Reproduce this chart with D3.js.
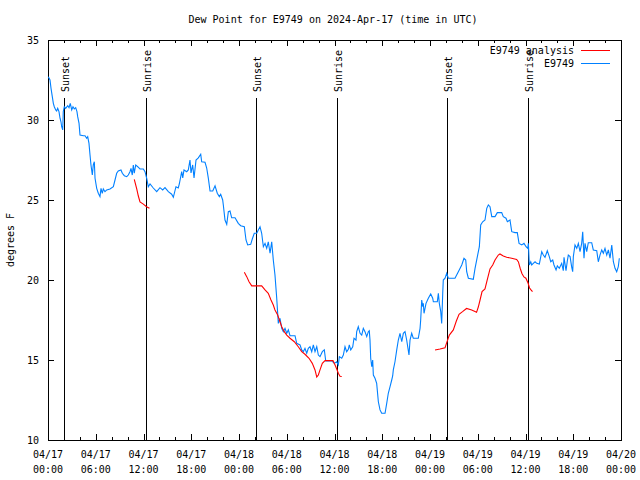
<!DOCTYPE html>
<html><head><meta charset="utf-8">
<script src="https://cdn.jsdelivr.net/npm/d3@7"></script>
<style>body{margin:0;background:#fff}svg text{font-family:"DejaVu Sans Mono","Liberation Mono",monospace;font-size:10px;fill:#000}</style>
</head><body><svg id="c" width="640" height="480"></svg>
<script>
const titleText = "Dew Point for E9749 on 2024-Apr-17 (time in UTC)";
const yLabelText = "degrees F";
const startTime = Date.UTC(2024, 3, 17, 0, 0);
const yTicks = [10, 15, 20, 25, 30, 35];
// hours since 2024-04-17 00:00 UTC
const obsHours = [0.04,0.25,0.38,0.54,0.67,0.79,0.97,1.09,1.22,1.38,1.51,1.63,1.72,1.85,1.92,2.05,2.22,2.48,2.64,2.80,2.98,3.14,3.30,3.48,3.64,3.73,3.90,4.02,4.44,4.65,4.86,4.99,5.15,5.28,5.40,5.57,5.69,5.82,5.91,6.12,6.32,6.53,6.66,6.82,6.95,7.16,7.38,7.79,8.21,8.42,8.63,8.83,9.17,9.34,9.59,9.89,10.09,10.30,10.43,10.59,10.72,10.84,11.02,11.27,11.56,11.98,12.19,12.40,12.60,12.82,13.23,13.66,14.07,14.41,14.70,15.12,15.54,15.75,16.08,16.37,16.50,16.80,16.93,17.09,17.43,17.63,17.84,17.97,18.18,18.35,18.60,18.89,19.19,19.31,19.73,19.94,20.14,20.36,20.70,20.99,21.27,21.53,21.70,21.95,22.03,22.24,22.46,22.66,22.87,23.08,23.50,23.91,24.21,24.67,24.88,25.09,25.47,25.67,25.92,26.23,26.43,26.64,26.85,27.06,27.27,27.48,27.68,27.90,28.11,28.31,28.52,28.74,28.94,29.15,29.37,29.57,29.78,30.00,30.20,30.41,31.04,31.25,31.67,31.88,32.08,32.29,32.51,32.71,32.92,33.14,33.34,33.55,33.77,33.97,34.18,34.47,34.72,34.90,35.65,35.98,36.28,36.48,36.61,36.91,37.11,37.32,37.53,37.74,37.86,38.04,38.29,38.45,38.70,38.79,38.99,39.21,39.42,39.62,39.83,40.05,40.25,40.37,40.46,40.55,40.68,40.80,40.88,41.09,41.30,41.51,41.72,41.93,42.35,42.56,42.76,42.98,43.19,43.31,43.39,43.60,43.82,44.02,44.23,44.45,44.65,44.86,45.07,45.36,45.49,45.70,45.90,46.53,46.75,46.83,46.96,47.09,47.16,47.25,47.50,47.79,48.09,48.34,48.42,48.92,49.05,49.17,49.35,49.47,49.60,49.67,49.89,50.10,50.30,51.14,51.56,51.99,52.27,52.49,52.61,52.82,53.44,53.66,53.95,54.20,54.37,54.62,54.91,55.13,55.33,55.54,55.76,56.17,56.46,57.01,57.21,57.55,57.72,58.05,58.27,58.68,58.97,59.19,59.53,59.81,60.07,60.28,60.36,60.48,60.66,60.78,60.98,61.20,61.41,61.74,62.04,62.24,62.45,62.74,62.99,63.17,63.42,63.58,63.84,64.00,64.25,64.55,64.75,64.84,65.09,65.26,65.38,65.60,65.81,65.93,66.01,66.22,66.44,66.64,66.85,67.06,67.19,67.35,67.48,67.69,67.89,68.32,68.52,68.95,69.15,69.36,69.58,69.78,69.99,70.21,70.41,70.62,70.84,71.04,71.25,71.46,71.66,71.79];
const obsDew = [32.71,32.5,31.98,31.46,31.04,30.83,30.63,30.56,30.73,30.52,30.11,29.89,29.58,29.38,30.52,30.83,30.73,30.89,30.77,31.04,30.63,30.83,30.69,30.77,30.52,30.21,29.79,29.06,29.02,29.02,28.86,28.96,28.54,27.81,27.19,26.56,27.19,27.39,26.36,25.73,25.42,25.21,25.73,25.42,25.69,25.52,25.63,25.69,25.83,26.25,26.67,26.81,26.88,26.67,26.52,26.46,26.56,26.77,26.98,26.56,27.19,26.67,27.19,27.08,26.94,26.94,26.77,26.36,25.83,26.0,25.75,25.52,25.77,25.63,25.77,25.52,25.36,25.17,25.83,25.75,26.0,26.77,26.38,26.88,26.77,26.88,27.5,26.69,27.19,26.38,27.5,27.63,27.86,27.39,27.36,27.0,26.38,25.56,25.56,25.89,25.42,25.21,25.36,25.0,24.69,23.75,23.48,24.27,24.31,23.89,23.89,23.54,23.39,23.33,22.5,22.19,22.23,22.56,22.92,22.92,23.13,23.33,22.92,22.08,22.29,21.98,22.39,21.67,22.39,21.25,20.31,18.86,17.29,17.61,16.98,16.77,16.98,16.67,16.88,16.52,16.52,16.04,15.94,15.63,15.52,15.73,15.42,15.73,15.83,15.52,15.94,15.52,15.83,15.31,15.21,15.52,15.63,14.94,14.94,14.79,14.89,14.69,15.21,15.11,15.31,15.83,15.52,15.67,15.94,15.63,15.83,16.36,16.25,16.77,17.08,16.67,16.56,16.98,16.77,16.46,16.77,16.83,16.25,15.11,14.58,15.0,14.06,13.86,13.54,12.39,11.88,11.67,11.67,12.29,12.92,13.33,13.75,14.0,14.38,14.89,15.63,16.25,16.67,16.14,16.67,16.77,16.25,15.31,16.25,16.67,16.36,16.36,16.98,17.5,18.75,18.33,18.54,17.92,18.54,18.86,19.13,18.86,18.64,18.64,19.17,18.54,18.02,17.29,19.17,20.0,20.11,20.42,20.11,20.11,20.52,20.94,21.36,21.25,20.52,20.11,20.04,20.73,21.46,22.08,23.44,23.64,23.75,24.48,24.69,24.58,23.96,23.96,24.21,24.21,23.96,23.86,23.64,23.75,23.02,22.96,22.96,22.29,22.19,22.29,22.08,21.98,22.29,20.94,21.14,20.94,21.04,21.14,21.04,21.0,21.77,21.56,21.42,21.83,21.46,21.14,21.25,20.94,20.63,20.88,20.73,21.04,20.58,21.42,20.58,21.21,21.56,21.46,20.79,20.52,21.46,22.19,21.98,22.29,21.77,22.29,23.02,21.36,22.29,21.77,22.33,22.33,21.88,21.83,21.14,21.56,21.88,21.67,21.98,21.56,21.88,21.36,22.19,21.14,20.73,20.52,20.83,21.36];
// analysis series, null = gap between runs
const anaHours = [10.84,11.15,11.35,11.56,11.98,12.38,12.75,null,24.67,24.97,25.26,25.60,26.85,27.27,27.68,28.02,28.31,28.52,28.86,29.15,29.37,29.69,30.00,30.41,30.95,31.45,31.88,32.29,32.80,33.21,33.55,33.77,33.97,34.18,34.47,34.81,35.81,36.07,36.28,36.48,36.69,36.91,null,48.63,49.26,49.89,50.10,50.43,50.93,51.31,51.65,52.09,52.59,53.24,53.85,54.07,54.29,54.54,54.91,55.16,55.54,55.88,56.17,56.58,56.79,57.21,57.63,58.26,58.89,59.11,59.34,59.55,59.80,60.05,60.32,60.51,60.69,60.88];
const anaDew = [26.29,25.7,25.25,24.88,24.74,24.58,24.48,null,20.48,20.21,19.89,19.63,19.63,19.38,19.17,18.75,18.44,18.13,17.81,17.39,17.08,16.77,16.56,16.36,16.14,15.83,15.52,15.36,15.11,14.79,14.38,13.94,14.06,14.38,14.79,14.96,14.96,14.69,14.44,14.17,13.98,13.97,null,15.63,15.69,15.77,16.09,16.56,16.88,17.44,17.86,18.02,18.22,18.13,17.98,18.31,18.75,19.28,19.44,19.94,20.69,20.94,21.25,21.56,21.63,21.5,21.42,21.36,21.28,21.13,20.72,20.41,20.19,20.11,19.81,19.5,19.38,19.27];
const sunHours = [2.0, 12.3, 26.1, 36.3, 50.1, 60.3];
const sunLabels = ["Sunset","Sunrise","Sunset","Sunrise","Sunset","Sunrise"];
const seriesNames = ["E9749 analysis", "E9749"];
const seriesColors = ["#ff0000", "#0080ff"];

const toDate = h => new Date(startTime + h * 3600e3);
const svg = d3.select("#c");
const L = 48, R = 621, T = 40, B = 440;
const x = d3.scaleUtc().domain([toDate(0), toDate(72)]).range([L, R]);
const y = d3.scaleLinear().domain([10, 35]).range([B, T]);

// minor ticks every 2h
const minor = d3.utcHour.every(2).range(toDate(0), toDate(72.01));
const major = d3.utcHour.every(6).range(toDate(0), toDate(72.01));
function axisStyle(g){ g.select(".domain").remove(); g.selectAll("line").attr("stroke","#000").attr("shape-rendering","crispEdges"); }
svg.append("g").attr("transform",`translate(0,${B})`).call(d3.axisBottom(x).tickValues(minor).tickSize(-3).tickFormat("")).call(axisStyle);
svg.append("g").attr("transform",`translate(0,${T})`).call(d3.axisTop(x).tickValues(minor).tickSize(-3).tickFormat("")).call(axisStyle);
svg.append("g").attr("transform",`translate(0,${B})`).call(d3.axisBottom(x).tickValues(major).tickSize(-6).tickFormat("")).call(axisStyle);
svg.append("g").attr("transform",`translate(0,${T})`).call(d3.axisTop(x).tickValues(major).tickSize(-6).tickFormat("")).call(axisStyle);
const gy = svg.append("g").attr("transform",`translate(${L},0)`).call(d3.axisLeft(y).tickValues(yTicks).tickSize(-6).tickPadding(9).tickFormat(d3.format("d"))).call(axisStyle);
gy.selectAll("text").attr("font-family",null).attr("font-size",null).attr("fill","#000");
svg.append("g").attr("transform",`translate(${R},0)`).call(d3.axisRight(y).tickValues(yTicks).tickSize(-6).tickFormat("")).call(axisStyle);

// x labels (two lines)
const fmtD = d3.utcFormat("%m/%d"), fmtT = d3.utcFormat("%H:%M");
const xl = svg.append("g").selectAll("text").data(major).join("text")
  .attr("x", d => x(d)).attr("y", 458).attr("text-anchor","middle");
xl.append("tspan").attr("x", d => x(d)).attr("y", 458).text(d => fmtD(d));
xl.append("tspan").attr("x", d => x(d)).attr("y", 473).text(d => fmtT(d));

// sunrise / sunset lines
svg.append("g").selectAll("line").data(sunHours).join("line")
  .attr("x1", d => Math.round(x(toDate(d)))+0.5).attr("x2", d => Math.round(x(toDate(d)))+0.5)
  .attr("y1", 98).attr("y2", B).attr("stroke","#000").attr("stroke-width",1);
svg.append("g").selectAll("text").data(sunHours).join("text")
  .attr("transform", d => `translate(${Math.round(x(toDate(d)))+5},92) rotate(-90)`)
  .attr("text-anchor","start").text((d,i) => sunLabels[i]);

// border
svg.append("rect").attr("x",L+0.5).attr("y",T+0.5).attr("width",R-L).attr("height",B-T)
  .attr("fill","none").attr("stroke","#000").attr("shape-rendering","crispEdges");

const line = d3.line().defined(d => d[1] != null).x(d => x(toDate(d[0]))).y(d => y(d[1]));
const anaData = anaHours.map((h,i) => [h, anaDew[i]]);
const obsData = obsHours.map((h,i) => [h, obsDew[i]]);
svg.append("path").datum(obsData).attr("d", line).attr("fill","none").attr("stroke",seriesColors[1]).attr("stroke-width",1.1);
svg.append("path").datum(anaData).attr("d", line).attr("fill","none").attr("stroke",seriesColors[0]).attr("stroke-width",1.1);

// title and y label
svg.append("text").attr("x", 333).attr("y", 23).attr("text-anchor","middle").text(titleText);
svg.append("text").attr("transform","translate(14,240) rotate(-90)").attr("text-anchor","middle").text(yLabelText);

// legend
const lg = svg.append("g");
seriesNames.forEach((n,i) => {
  const yy = 50 + i*13;
  lg.append("text").attr("x",574).attr("y",yy+3.5).attr("text-anchor","end").text(n);
  lg.append("line").attr("x1",581).attr("x2",610).attr("y1",yy+0.5).attr("y2",yy+0.5).attr("stroke",seriesColors[i]).attr("stroke-width",1);
});
</script></body></html>
